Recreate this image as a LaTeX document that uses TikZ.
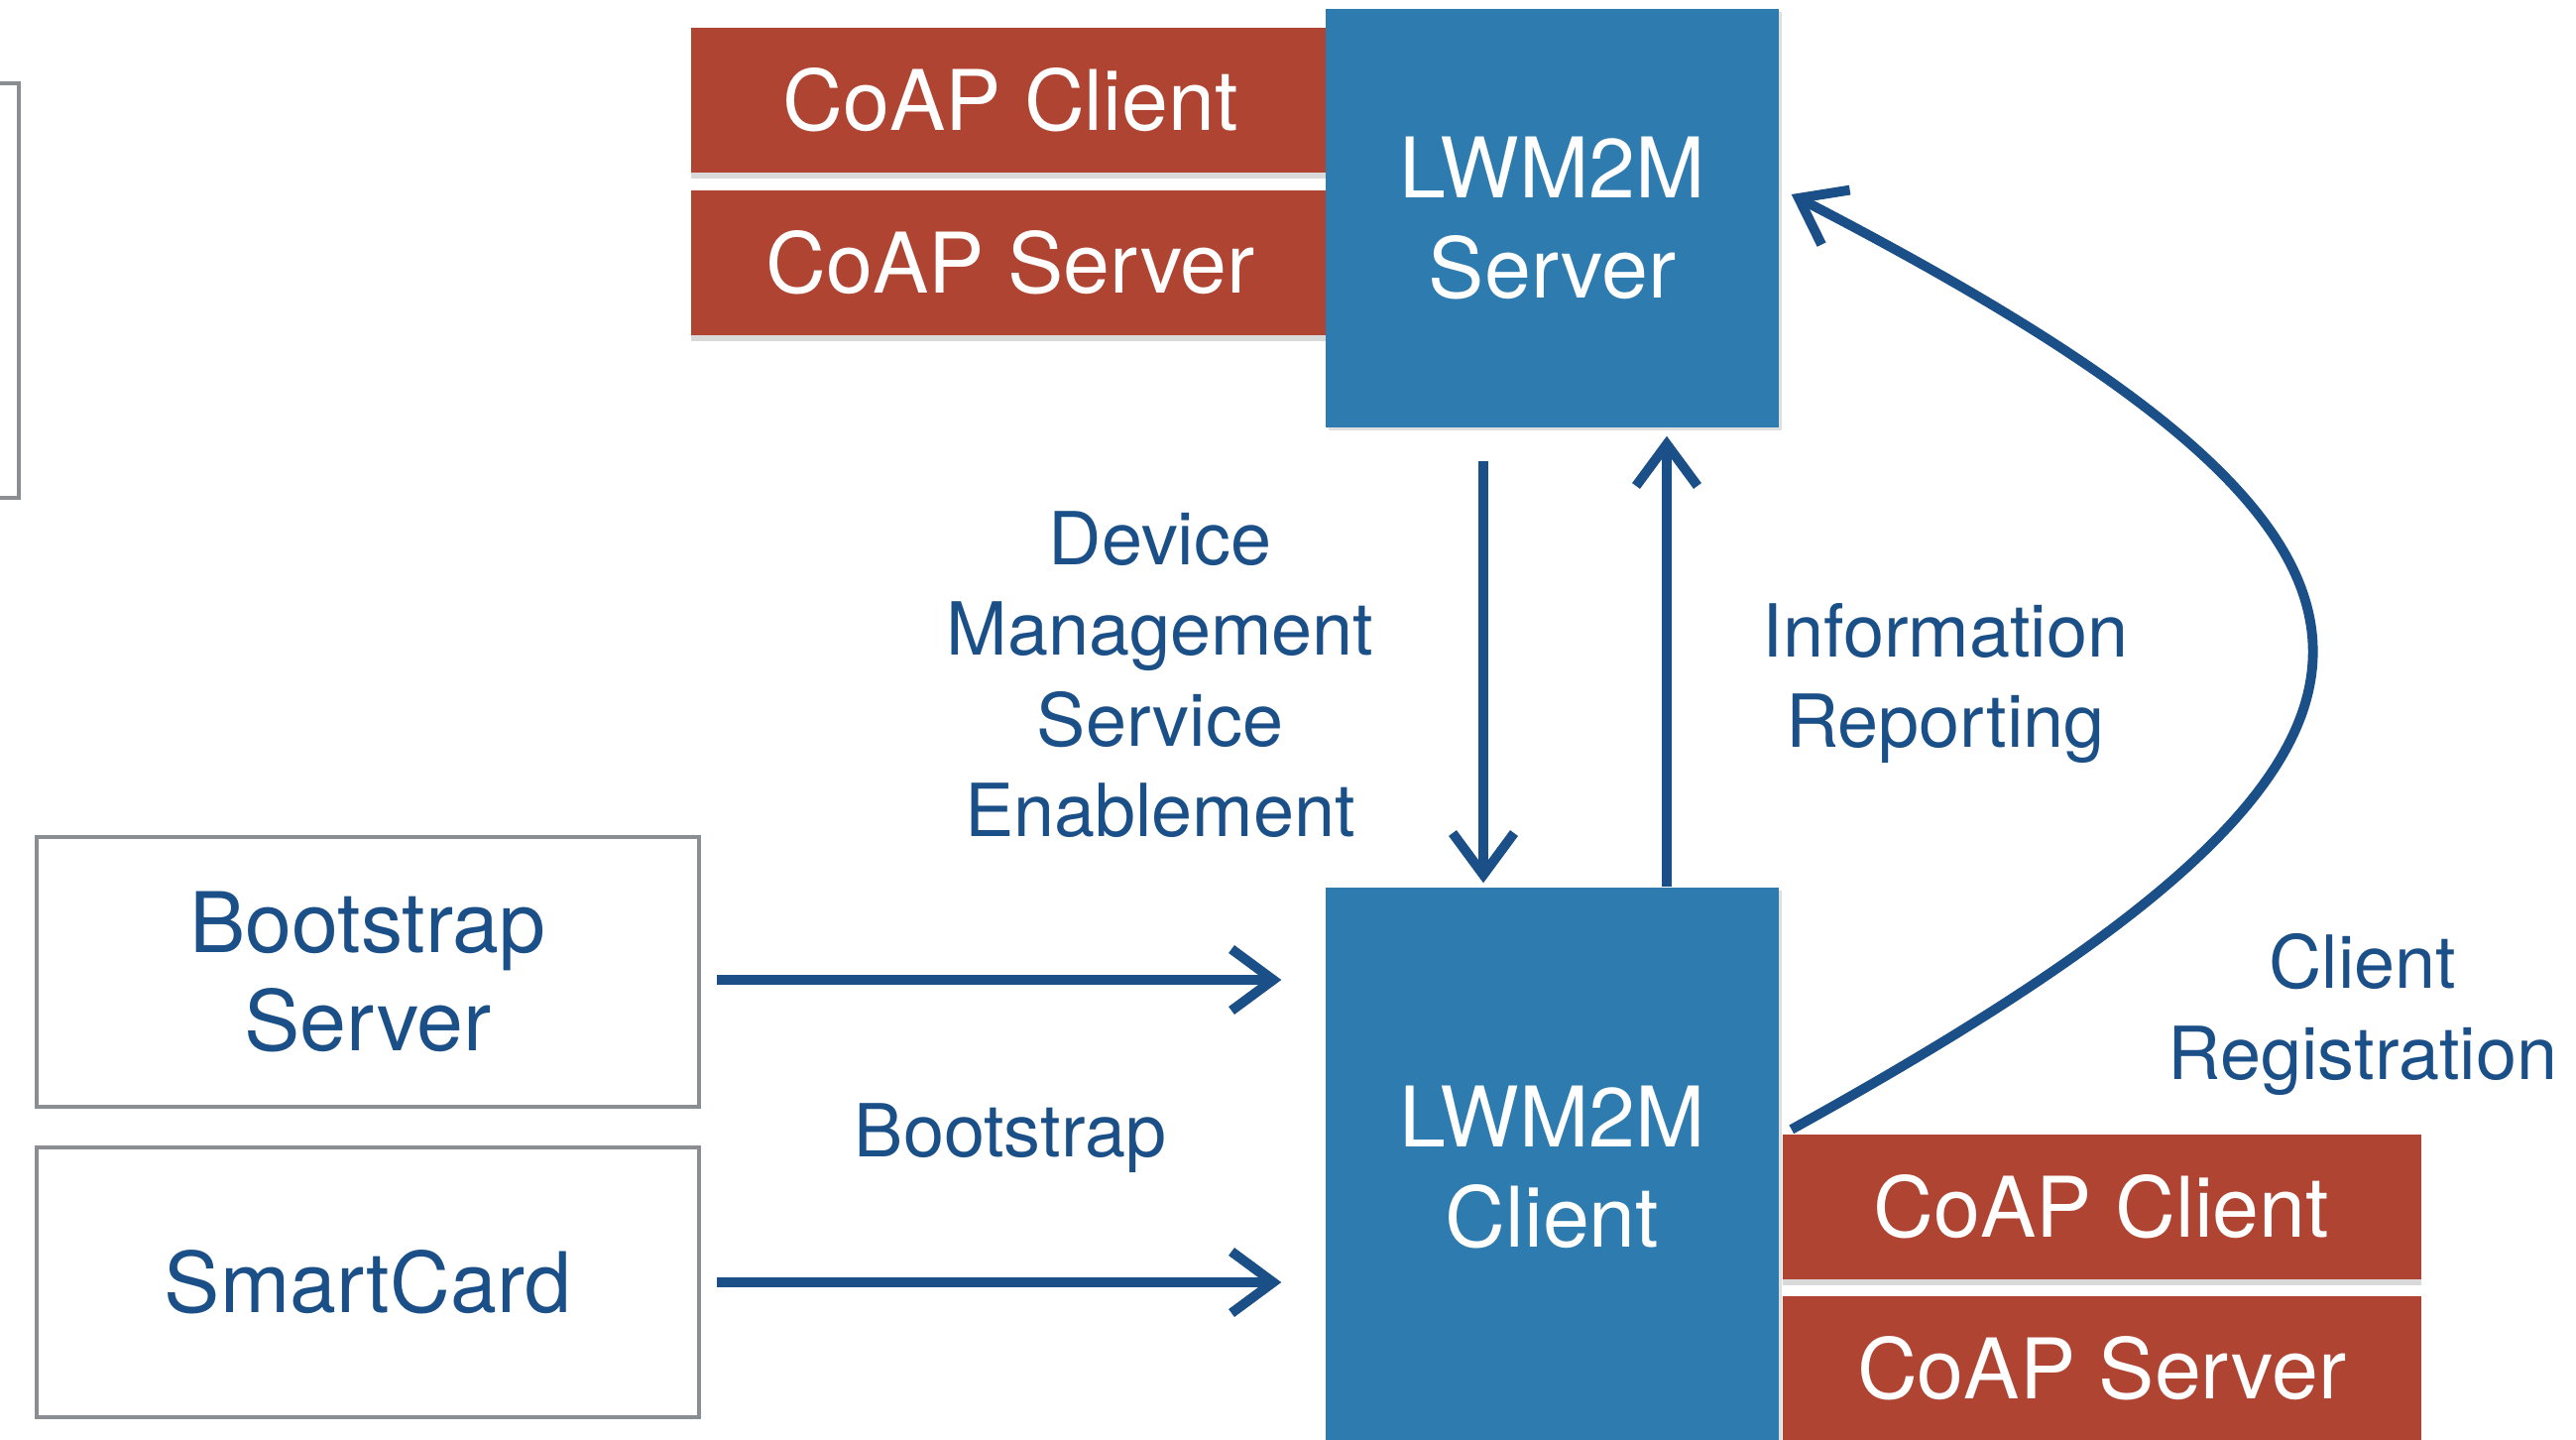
\documentclass[tikz,border=0pt]{standalone}
\usepackage{fontspec}
\setmainfont{TeX Gyre Heros}
\usetikzlibrary{arrows.meta,shadows}

\definecolor{coapred}{RGB}{176,68,50}
\definecolor{lwblue}{RGB}{46,123,176}
\definecolor{inkblue}{RGB}{27,79,135}
\definecolor{framegray}{RGB}{138,141,145}

\tikzset{
    coapbox/.style={fill=coapred, text=white, minimum width=6.44cm, minimum height=1.46cm,
        font=\fontsize{24}{28}\selectfont,
        drop shadow={shadow xshift=0pt, shadow yshift=-0.06cm, opacity=0.3}},
    lwbox/.style={fill=lwblue, text=white, minimum width=4.57cm, align=center,
        font=\fontsize{24}{28.6}\selectfont,
        drop shadow={shadow xshift=0.03cm, shadow yshift=-0.03cm, opacity=0.25}},
    plainbox/.style={draw=framegray, line width=1.4pt, minimum width=6.68cm, minimum height=2.72cm,
        text=inkblue, align=center, font=\fontsize{24}{28}\selectfont},
    lbl/.style={text=inkblue, align=center, font=\fontsize{21}{26}\selectfont},
    flow/.style={draw=inkblue, line width=2.8pt, -{Straight Barb[length=0.42cm,width=0.62cm]}}
}

\begin{document}
\begin{tikzpicture}
    \useasboundingbox (0,0) rectangle (25.98,-14.51);
    \clip (0,0) rectangle (25.98,-14.51);

    % frame cut off at the left
    \draw[framegray, line width=1.4pt] (-1,-0.84) rectangle (0.19,-5.02);

    % server side
    \node[coapbox] (srvcli) at (10.19,-1.01) {CoAP Client};
    \node[coapbox] (srvsrv) at (10.19,-2.645) {CoAP Server};
    \node[lwbox, minimum height=4.22cm] (lwsrv) at (15.655,-2.20) {LWM2M\\Server};

    % client side
    \node[coapbox] (clicli) at (21.195,-12.165) {CoAP Client};
    \node[coapbox] (clisrv) at (21.195,-13.795) {CoAP Server};
    \node[lwbox, minimum height=5.64cm] (lwcli) at (15.655,-11.77) {LWM2M\\Client};

    % bootstrap sources
    \node[plainbox] (bss) at (3.71,-9.80) {Bootstrap\\Server};
    \node[plainbox] (card) at (3.71,-12.93) {SmartCard};

    % labels
    \node[lbl] (dmse) at (11.70,-6.80) {Device\\Management\\Service\\Enablement};
    \node[lbl] (inforep) at (19.62,-6.89) {Information\\Reporting};
    \node[lbl] (clireg) at (23.83,-10.23) {Client\\Registration};
    \node[lbl] (bootlbl) at (10.19,-11.48) {Bootstrap};

    % connectors
    \draw[flow] ([xshift=-0.695cm, yshift=-0.33cm]lwsrv.south) -- ([xshift=-0.695cm, yshift=0.04cm]lwcli.north);
    \draw[flow] ([xshift=1.155cm]lwcli.north) -- ([xshift=1.155cm, yshift=-0.08cm]lwsrv.south);
    \draw[flow] ([xshift=0.16cm, yshift=-0.08cm]bss.east) -- ([xshift=-0.44cm, yshift=-0.08cm]bss.east -| lwcli.west);
    \draw[flow] ([xshift=0.16cm]card.east) -- ([xshift=-0.44cm]card.east -| lwcli.west);
    \draw[flow] ([xshift=0.1cm, yshift=0.04cm]clicli.north west)
        .. controls (25.06,-7.52) and (25.06,-5.58) .. ([xshift=0.12cm, yshift=0.24cm]lwsrv.east);
\end{tikzpicture}
\end{document}
